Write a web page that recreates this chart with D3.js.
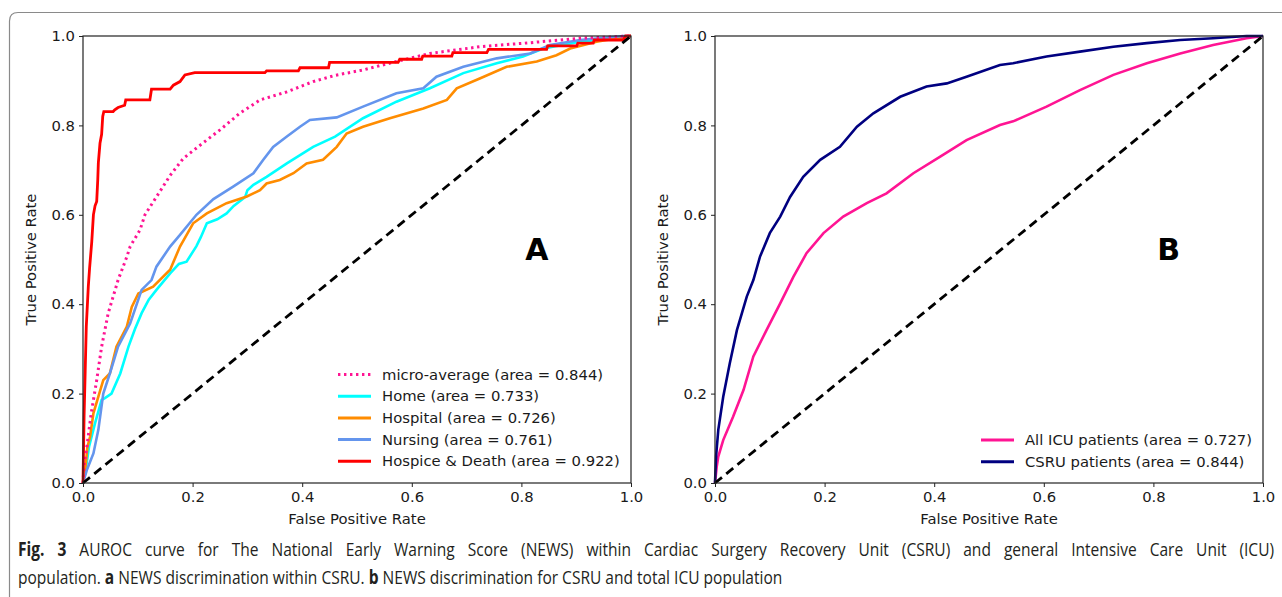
<!DOCTYPE html>
<html><head><meta charset="utf-8">
<script src="https://cdn.jsdelivr.net/npm/d3@7"></script>
<style>html,body{margin:0;padding:0;background:#fff;}svg{display:block;}</style>
</head><body>
<svg id="c" width="1282" height="597"></svg>
<script>
// ---------- DATA ----------
const axisTicks = [0, 0.2, 0.4, 0.6, 0.8, 1.0];
const legendA = ["micro-average (area = 0.844)", "Home (area = 0.733)", "Hospital (area = 0.726)", "Nursing (area = 0.761)", "Hospice & Death (area = 0.922)"];
const legendB = ["All ICU patients (area = 0.727)", "CSRU patients (area = 0.844)"];

const microAvg = [[0,0],[0.002,0.04],[0.007,0.081],[0.015,0.156],[0.025,0.23],[0.034,0.305],[0.046,0.38],[0.064,0.454],[0.08,0.506],[0.086,0.529],[0.104,0.566],[0.113,0.6],[0.134,0.64],[0.159,0.688],[0.183,0.726],[0.214,0.756],[0.25,0.79],[0.286,0.827],[0.323,0.857],[0.372,0.875],[0.42,0.898],[0.46,0.912],[0.511,0.924],[0.572,0.943],[0.633,0.961],[0.724,0.976],[0.816,0.985],[0.907,0.995],[1,1]];
const home = [[0,0],[0.004,0.022],[0.011,0.081],[0.022,0.134],[0.034,0.186],[0.04,0.19],[0.052,0.2],[0.068,0.245],[0.083,0.305],[0.095,0.345],[0.107,0.38],[0.12,0.41],[0.134,0.432],[0.159,0.469],[0.175,0.49],[0.189,0.495],[0.207,0.53],[0.215,0.55],[0.226,0.581],[0.245,0.59],[0.262,0.603],[0.275,0.62],[0.296,0.64],[0.3,0.655],[0.311,0.667],[0.335,0.685],[0.372,0.715],[0.42,0.752],[0.46,0.775],[0.511,0.816],[0.572,0.853],[0.633,0.883],[0.694,0.917],[0.755,0.939],[0.803,0.954],[0.84,0.972],[0.907,0.987],[0.986,0.996],[1,1]];
const hospital = [[0,0],[0.004,0.029],[0.008,0.08],[0.013,0.104],[0.019,0.156],[0.028,0.193],[0.037,0.23],[0.049,0.245],[0.061,0.305],[0.08,0.35],[0.089,0.394],[0.101,0.424],[0.128,0.439],[0.159,0.477],[0.177,0.529],[0.201,0.581],[0.226,0.603],[0.262,0.626],[0.299,0.641],[0.323,0.655],[0.335,0.67],[0.359,0.678],[0.384,0.693],[0.408,0.715],[0.438,0.723],[0.463,0.752],[0.481,0.782],[0.511,0.797],[0.56,0.816],[0.621,0.838],[0.664,0.857],[0.682,0.883],[0.724,0.905],[0.773,0.931],[0.828,0.943],[0.864,0.957],[0.889,0.972],[0.937,0.987],[0.998,1],[1,1]];
const nursing = [[0,0],[0.007,0.029],[0.019,0.066],[0.028,0.119],[0.037,0.2],[0.049,0.245],[0.064,0.305],[0.086,0.357],[0.107,0.432],[0.125,0.454],[0.134,0.484],[0.159,0.529],[0.177,0.555],[0.207,0.6],[0.238,0.635],[0.274,0.663],[0.311,0.693],[0.329,0.723],[0.347,0.752],[0.372,0.775],[0.396,0.797],[0.414,0.812],[0.463,0.818],[0.511,0.842],[0.572,0.872],[0.621,0.883],[0.645,0.909],[0.694,0.931],[0.755,0.95],[0.816,0.961],[0.852,0.98],[0.907,0.991],[0.986,1],[1,1]];
const hospice = [[0,0],[0.002,0.15],[0.004,0.25],[0.006,0.35],[0.0097,0.44],[0.012,0.48],[0.016,0.54],[0.019,0.6],[0.022,0.62],[0.025,0.63],[0.027,0.68],[0.028,0.716],[0.031,0.76],[0.034,0.78],[0.036,0.82],[0.038,0.831],[0.055,0.831],[0.058,0.835],[0.064,0.84],[0.076,0.845],[0.078,0.857],[0.122,0.857],[0.125,0.881],[0.159,0.881],[0.165,0.89],[0.177,0.898],[0.186,0.913],[0.204,0.918],[0.332,0.918],[0.335,0.922],[0.393,0.922],[0.396,0.929],[0.448,0.929],[0.45,0.941],[0.575,0.941],[0.578,0.948],[0.618,0.948],[0.62,0.955],[0.673,0.955],[0.675,0.963],[0.737,0.963],[0.74,0.97],[0.846,0.97],[0.848,0.978],[0.901,0.978],[0.903,0.984],[0.931,0.984],[0.933,0.991],[0.986,0.991],[0.99,1],[1,1]];

const allIcu = [[0,0],[0.003,0.035],[0.006,0.059],[0.015,0.096],[0.033,0.148],[0.052,0.208],[0.07,0.283],[0.094,0.342],[0.119,0.402],[0.143,0.461],[0.167,0.514],[0.198,0.559],[0.234,0.596],[0.277,0.626],[0.313,0.648],[0.362,0.693],[0.411,0.73],[0.459,0.767],[0.52,0.801],[0.544,0.809],[0.605,0.842],[0.666,0.879],[0.727,0.913],[0.788,0.939],[0.849,0.961],[0.909,0.98],[0.97,0.995],[1,1]];
const csru = [[0,0],[0.002,0.06],[0.006,0.119],[0.015,0.193],[0.027,0.268],[0.04,0.342],[0.058,0.417],[0.07,0.454],[0.082,0.506],[0.1,0.559],[0.119,0.596],[0.137,0.64],[0.161,0.685],[0.192,0.723],[0.228,0.752],[0.259,0.797],[0.289,0.827],[0.338,0.864],[0.386,0.887],[0.423,0.894],[0.459,0.909],[0.52,0.935],[0.544,0.939],[0.605,0.954],[0.666,0.965],[0.727,0.976],[0.788,0.984],[0.849,0.991],[0.909,0.995],[0.97,1],[1,1]];
const diagonal = [[0,0],[1,1]];

// ---------- DRAW ----------
const svg = d3.select("#c");
const FONT = "DejaVu Sans, sans-serif";
const FS = 14.8;

// figure frame (left & top edges, rounded corner)
svg.append("path")
  .attr("d", "M9.5,700 L9.5,21 Q9.5,12.5 18,12.5 L1400,12.5")
  .attr("fill", "none").attr("stroke", "#8a8a8a").attr("stroke-width", 1.2);

function panel(x0, seriesList, legendItems, legendX, legendY0, letter) {
  const x = d3.scaleLinear().domain([0,1]).range([x0, x0 + 548]);
  const y = d3.scaleLinear().domain([0,1]).range([483, 36]);
  const g = svg.append("g");
  const line = d3.line().x(d => x(d[0])).y(d => y(d[1]));

  const clip = "clip" + letter;
  svg.append("clipPath").attr("id", clip).append("rect")
    .attr("x", x(0) - 2).attr("y", y(1) - 2).attr("width", 552).attr("height", 451);

  const cg = g.append("g").attr("clip-path", `url(#${clip})`);
  seriesList.forEach(s => {
    cg.append("path").datum(s.data).attr("d", line)
      .attr("fill", "none").attr("stroke", s.color)
      .attr("stroke-width", s.w).attr("stroke-dasharray", s.dash || null)
      .attr("stroke-linejoin", "miter").attr("stroke-linecap", "butt");
  });

  // frame (spines)
  g.append("rect").attr("x", x(0)).attr("y", y(1)).attr("width", x(1) - x(0)).attr("height", y(0) - y(1))
    .attr("fill", "none").attr("stroke", "#222").attr("stroke-width", 1.2);

  const ax = g.append("g").attr("transform", `translate(0,${y(0)})`)
    .call(d3.axisBottom(x).tickValues(axisTicks).tickFormat(d3.format(".1f")).tickSizeOuter(0).tickSize(4).tickPadding(4));
  const ay = g.append("g").attr("transform", `translate(${x(0)},0)`)
    .call(d3.axisLeft(y).tickValues(axisTicks).tickFormat(d3.format(".1f")).tickSizeOuter(0).tickSize(4).tickPadding(4));
  [ax, ay].forEach(a => {
    a.select(".domain").remove();
    a.selectAll("line").attr("stroke", "#222").attr("stroke-width", 1);
    a.selectAll("text").attr("font-family", FONT).attr("font-size", FS).attr("fill", "#1a1a1a");
  });

  g.append("text").attr("x", (x(0) + x(1)) / 2).attr("y", 524).attr("text-anchor", "middle")
    .attr("font-family", FONT).attr("font-size", FS).attr("fill", "#1a1a1a").text("False Positive Rate");
  g.append("text").attr("transform", `translate(${x0 - 47},${(y(0) + y(1)) / 2}) rotate(-90)`)
    .attr("text-anchor", "middle").attr("font-family", FONT).attr("font-size", FS).attr("fill", "#1a1a1a")
    .text("True Positive Rate");

  // big letter
  g.append("text").attr("x", x(0.828)).attr("y", y(0.5)).attr("text-anchor", "middle")
    .attr("font-family", FONT).attr("font-weight", "bold").attr("font-size", 30).attr("fill", "#000").text(letter);

  // legend
  legendItems.forEach((it, i) => {
    const ly = legendY0 + i * 21.7;
    g.append("line").attr("x1", legendX).attr("x2", legendX + 33).attr("y1", ly).attr("y2", ly)
      .attr("stroke", it.color).attr("stroke-width", it.lw).attr("stroke-dasharray", it.dash || null);
    g.append("text").attr("x", legendX + 44).attr("y", ly).attr("dy", "0.35em")
      .attr("font-family", FONT).attr("font-size", FS).attr("fill", "#1a1a1a").text(it.label);
  });
}

const cPink = "#ff1493", cCyan = "#00ffff", cOrange = "#ff8c00", cBlue = "#6495ed", cRed = "#ff0000", cNavy = "#000080";

panel(83, [
  {data: home, color: cCyan, w: 2.6},
  {data: hospital, color: cOrange, w: 2.6},
  {data: nursing, color: cBlue, w: 2.6},
  {data: microAvg, color: cPink, w: 3, dash: "2.4,3.6"},
  {data: hospice, color: cRed, w: 2.8},
  {data: diagonal, color: "#000", w: 2.8, dash: "9,5.5"}
], [
  {label: legendA[0], color: cPink, lw: 3, dash: "2.4,3.6"},
  {label: legendA[1], color: cCyan, lw: 3},
  {label: legendA[2], color: cOrange, lw: 3},
  {label: legendA[3], color: cBlue, lw: 3},
  {label: legendA[4], color: cRed, lw: 3}
], 338, 374.5, "A");

panel(715, [
  {data: allIcu, color: cPink, w: 2.6},
  {data: csru, color: cNavy, w: 2.6},
  {data: diagonal, color: "#000", w: 2.8, dash: "9,5.5"}
], [
  {label: legendB[0], color: cPink, lw: 3},
  {label: legendB[1], color: cNavy, lw: 3}
], 981, 440, "B");

// caption: condensed face (horizontal squeeze fitted to line 2), line 1 justified
const capFont = "'Open Sans', 'Noto Sans', sans-serif";
function capLine(parts) {
  const t = svg.append("text").attr("x", 0).attr("y", 0)
    .attr("font-family", capFont).attr("font-size", 19).attr("fill", "#231f20");
  parts.forEach(p => t.append("tspan").attr("font-weight", p.b ? "bold" : "normal").text(p.t));
  return t;
}
const cap1Parts = [{t: "Fig. 3", b: true}, {t: " AUROC curve for The National Early Warning Score (NEWS) within Cardiac Surgery Recovery Unit (CSRU) and general Intensive Care Unit (ICU)"}];
const cap1 = capLine(cap1Parts);
const cap2 = capLine([{t: "population. "}, {t: "a", b: true}, {t: " NEWS discrimination within CSRU. "}, {t: "b", b: true}, {t: " NEWS discrimination for CSRU and total ICU population"}]);
const sx = 765 / cap2.node().getComputedTextLength();
const nSpaces = cap1Parts.map(p => p.t).join("").split(" ").length - 1;
const extra = (1257 / sx - cap1.node().getComputedTextLength()) / nSpaces;
cap1.attr("word-spacing", Math.max(0, extra));
cap1.attr("transform", `translate(18,556) scale(${sx},1)`);
cap2.attr("transform", `translate(18,584) scale(${sx},1)`);
</script>
</body></html>
